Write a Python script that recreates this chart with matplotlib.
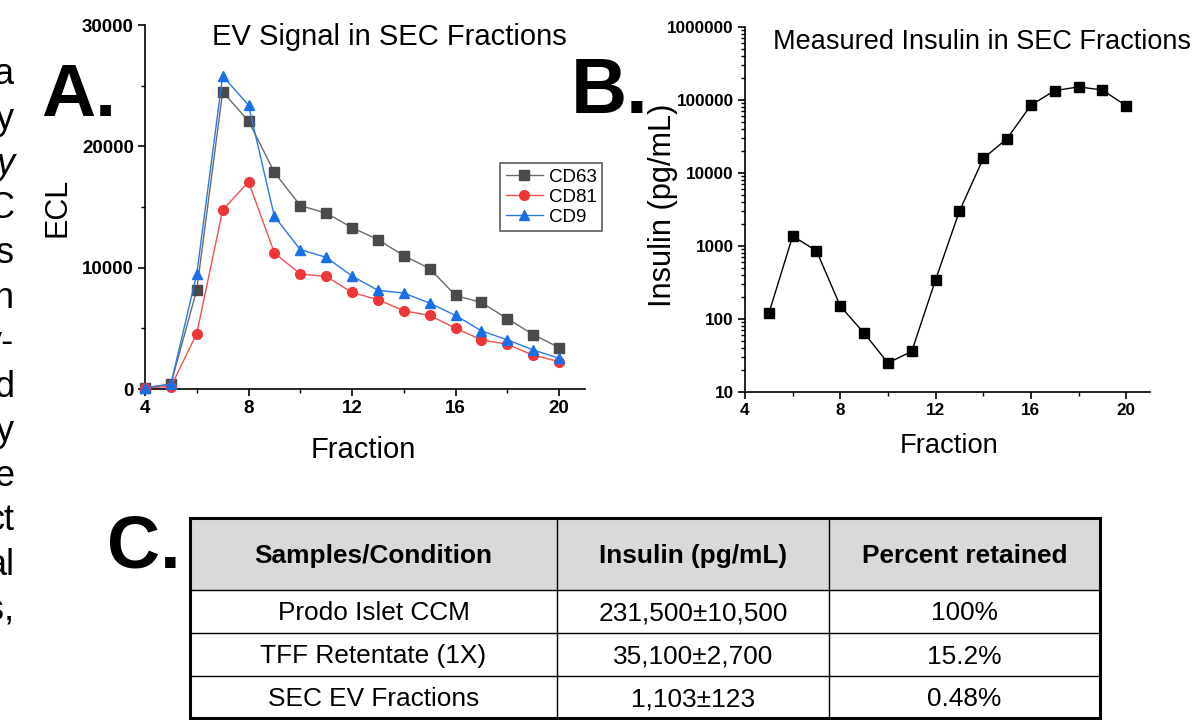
import matplotlib
matplotlib.use('Agg')
import matplotlib.pyplot as plt
from matplotlib import font_manager
from matplotlib.ticker import MultipleLocator, LogLocator, FixedLocator, NullFormatter
from matplotlib.patches import Rectangle

# panel A: EV signal (ECL) per SEC fraction
fractions = [4, 5, 6, 7, 8, 9, 10, 11, 12, 13, 14, 15, 16, 17, 18, 19, 20]
cd63 = [100, 400, 8180, 24490, 22090, 17850, 15120, 14490, 13300, 12310,
        10990, 9920, 7710, 7130, 5790, 4490, 3410]
cd81 = [100, 200, 4570, 14740, 17080, 11210, 9480, 9280, 7960, 7360,
        6450, 6060, 5010, 4050, 3690, 2780, 2260]
cd9 = [100, 400, 9480, 25810, 23390, 14220, 11490, 10850, 9310, 8130,
       7910, 7080, 6060, 4790, 4050, 3220, 2530]

# panel B: measured insulin per SEC fraction
ins_fractions = [5, 6, 7, 8, 9, 10, 11, 12, 13, 14, 15, 16, 17, 18, 19, 20]
insulin = [119, 1370, 860, 150, 64, 25, 36, 345, 3000, 15800, 29600,
           84900, 134600, 151000, 137400, 83200]

# panel C: table
tbl_header = ['Samples/Condition', 'Insulin (pg/mL)', 'Percent retained']
tbl_samples = ['Prodo Islet CCM', 'TFF Retentate (1X)', 'SEC EV Fractions']
tbl_insulin = ['231,500\u00b110,500', '35,100\u00b12,700', '1,103\u00b1123']
tbl_percent = ['100%', '15.2%', '0.48%']

# cut-off text of the neighbouring page column
side_text = ['a', 'y', 'y', 'C', 's', 'h', 'v-', 'd', 'y', 'e', 'ct', 'al', 's,']

names = {f.name for f in font_manager.fontManager.ttflist}
REG = 'Liberation Sans' if 'Liberation Sans' in names else 'DejaVu Sans'
NARROW = 'Liberation Sans Narrow' if 'Liberation Sans Narrow' in names else REG
narrow_ok = NARROW != REG
plt.rcParams['font.family'] = [REG, 'DejaVu Sans']

W, H = 1197, 720
fig = plt.figure(figsize=(W / 100, H / 100), dpi=100)


def fx(px):
    return px / W


def fy(py):
    return 1 - py / H


# ---------- A ----------
axA = fig.add_axes([fx(145), fy(389), fx(585 - 145), (389 - 25) / H])
axA.plot(fractions, cd63, color='#6a6a6a', lw=1, marker='s', ms=6.5,
         mfc='#4a4a4a', mec='#4a4a4a', label='CD63', clip_on=False, zorder=3)
axA.plot(fractions, cd81, color='#f05050', lw=1, marker='o', ms=7,
         mfc='#ee3636', mec='#ee3636', label='CD81', clip_on=False, zorder=3)
axA.plot(fractions, cd9, color='#2a78e4', lw=1, marker='^', ms=7.5,
         mfc='#1a6ee8', mec='#1a6ee8', label='CD9', clip_on=False, zorder=4)
axA.set_xlim(4, 21)
axA.set_ylim(0, 30000)
axA.xaxis.set_major_locator(FixedLocator([4, 8, 12, 16, 20]))
axA.xaxis.set_minor_locator(MultipleLocator(2))
axA.yaxis.set_major_locator(MultipleLocator(10000))
axA.yaxis.set_minor_locator(MultipleLocator(5000))

fig.legend(loc='upper left', bbox_to_anchor=(fx(500), fy(163)),
           bbox_transform=fig.transFigure, fontsize=13.5, frameon=True,
           fancybox=False, edgecolor='#333333', handlelength=2.0,
           borderpad=0.3, labelspacing=0.15, handletextpad=0.3,
           borderaxespad=0).get_frame().set_linewidth(1.2)

fig.text(fx(389), fy(37), 'EV Signal in SEC Fractions', fontsize=21,
         ha='center', va='center')
fig.text(fx(363), fy(450), 'Fraction', fontsize=21, ha='center', va='center')
fig.text(fx(57), fy(207), 'ECL', fontsize=22, ha='center', va='center',
         rotation=90)

# ---------- B ----------
axB = fig.add_axes([fx(745), fy(392), fx(1150 - 745), (392 - 27) / H])
axB.plot(ins_fractions, insulin, color='black', lw=1, marker='s', ms=7,
         mfc='black', mec='black', clip_on=False, zorder=3)
axB.set_yscale('log')
axB.set_xlim(4, 21)
axB.set_ylim(10, 1e6)
axB.xaxis.set_major_locator(FixedLocator([4, 8, 12, 16, 20]))
axB.xaxis.set_minor_locator(MultipleLocator(2))
axB.yaxis.set_major_locator(FixedLocator([10, 100, 1000, 10000, 100000, 1000000]))
axB.yaxis.set_minor_locator(LogLocator(base=10, subs=range(2, 10)))
axB.yaxis.set_minor_formatter(NullFormatter())
axB.set_yticklabels(['10', '100', '1000', '10000', '100000', '1000000'])

bsz = 1.0 if narrow_ok else 0.82
fig.text(fx(773), fy(42), 'Measured Insulin in SEC Fractions',
         fontsize=23.8 * bsz, family=NARROW, ha='left', va='center')
fig.text(fx(949), fy(446), 'Fraction', fontsize=24 * bsz, family=NARROW,
         ha='center', va='center')
fig.text(fx(663), fy(205), 'Insulin (pg/mL)', fontsize=27 * bsz,
         family=NARROW, ha='center', va='center', rotation=90)

for ax, fam, sz in [(axA, REG, 13.5), (axB, NARROW, 15 * bsz)]:
    for s in ['top', 'right']:
        ax.spines[s].set_visible(False)
    for s in ['left', 'bottom']:
        ax.spines[s].set_linewidth(1.2)
    ax.tick_params(which='major', direction='out', length=5, width=1.2,
                   pad=3)
    ax.tick_params(which='minor', direction='out', length=3, width=1)
    for lab in ax.get_xticklabels() + ax.get_yticklabels():
        lab.set_fontweight('bold')
        lab.set_fontsize(sz)
        lab.set_family(fam)
    ax.set_facecolor('none')

# ---------- panel letters ----------
fig.text(fx(41), fy(116), 'A.', fontsize=54, fontweight='bold',
         ha='left', va='baseline')
fig.text(fx(571), fy(113), 'B.', fontsize=56, fontweight='bold',
         ha='left', va='baseline')
fig.text(fx(107), fy(568), 'C.', fontsize=53, fontweight='bold',
         ha='left', va='baseline')

# side text
for i, t in enumerate(side_text):
    fig.text(fx(14), fy(75 + 44.6 * i), t, fontsize=26, ha='right',
             va='center', style='italic' if i == 2 else 'normal')

# ---------- C: table ----------
axT = fig.add_axes([0, 0, 1, 1])
axT.set_xlim(0, W)
axT.set_ylim(H, 0)
axT.axis('off')
col_edges = [190, 557, 829, 1100]
row_edges = [518, 590, 633, 676, 718]
axT.add_patch(Rectangle((col_edges[0], row_edges[0]), col_edges[-1] - col_edges[0],
                        row_edges[1] - row_edges[0], facecolor='#d9d9d9',
                        edgecolor='none'))
for x in col_edges[1:-1]:
    axT.plot([x, x], [row_edges[0], row_edges[-1]], color='black', lw=1)
for y in row_edges[1:-1]:
    axT.plot([col_edges[0], col_edges[-1]], [y, y], color='black', lw=1)
axT.add_patch(Rectangle((col_edges[0], row_edges[0]), col_edges[-1] - col_edges[0],
                        row_edges[-1] - row_edges[0], facecolor='none',
                        edgecolor='black', lw=2.2))
tsz = 1.0 if narrow_ok else 0.84
for j, h in enumerate(tbl_header):
    axT.text((col_edges[j] + col_edges[j + 1]) / 2,
             (row_edges[0] + row_edges[1]) / 2 + 2, h, fontsize=22.5 * tsz,
             fontweight='bold', family=NARROW, ha='center', va='center')
rows = list(zip(tbl_samples, tbl_insulin, tbl_percent))
for i, row in enumerate(rows):
    for j, val in enumerate(row):
        axT.text((col_edges[j] + col_edges[j + 1]) / 2,
                 (row_edges[i + 1] + row_edges[i + 2]) / 2 + 2, val,
                 fontsize=22.5 * tsz, family=NARROW, ha='center', va='center')

fig.savefig('out.png', dpi=100)
